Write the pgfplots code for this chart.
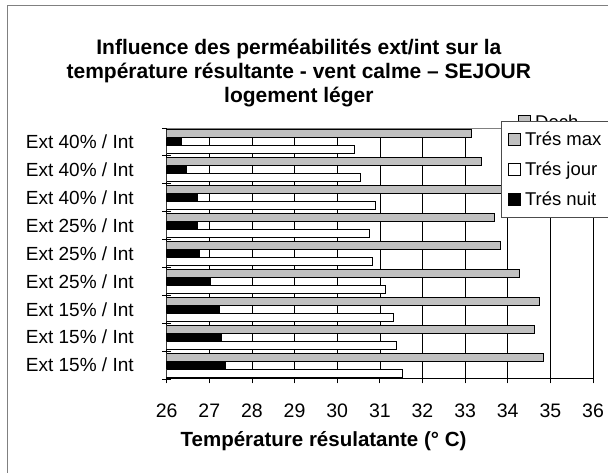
\documentclass[border=0pt]{standalone}
\usepackage{fontspec}
\setmainfont{Liberation Sans}
\usepackage{pgfplots}
\pgfplotsset{compat=1.18}
\definecolor{barGray}{RGB}{192,192,192}
\definecolor{frameGray}{RGB}{128,128,128}
\pgfplotsset{sqleg/.style={legend image code/.code={\draw[##1, line width=0.8pt] (0pt,-6pt) rectangle (12pt,6pt);}}}
\begin{document}
\begin{tikzpicture}
\path[use as bounding box] (0,0) rectangle (608pt,473pt);
\clip (0,0) rectangle (608pt,473pt);
\draw[frameGray, line width=1pt] (7.5pt,-10pt) rectangle (640pt,467.5pt);
\draw[black, fill=barGray, line width=0.8pt] (518pt,346pt) rectangle (530pt,358pt);
\node[anchor=base west, inner sep=0pt, font=\fontsize{18.5}{21}\selectfont] at (535pt,344pt) {Dech};
\begin{axis}[
  at={(166.7pt,94pt)}, anchor=south west,
  scale only axis, width=426.3pt, height=251pt,
  xbar, bar width=8pt,
  xmin=26, xmax=36, ymin=0.5, ymax=9.5,
  xtick={26,...,36},
  ytick={1,...,9},
  yticklabels={Ext 15\% / Int, Ext 15\% / Int, Ext 15\% / Int, Ext 25\% / Int, Ext 25\% / Int, Ext 25\% / Int, Ext 40\% / Int, Ext 40\% / Int, Ext 40\% / Int},
  minor ytick={0.5,1.5,...,9.5},
  tick align=center,
  major tick length=9pt, minor tick length=9pt,
  major y tick style={draw=none},
  tick style={black, line width=0.8pt},
  axis x line*=bottom, axis y line*=left,
  axis line style={black, line width=1pt},
  xmajorgrids, grid style={black, line width=0.7pt},
  /pgf/number format/assume math mode=true,
  tick label style={font=\fontsize{19}{22}\selectfont},
  xticklabel style={yshift=-17pt, font=\fontsize{19.5}{22}\selectfont},
  yticklabel style={xshift=-25pt},
  xlabel={\bfseries Température résulatante (° C)},
  xlabel style={at={(axis description cs:0.368,-0.247)}, anchor=center, font=\fontsize{20.5}{24}\selectfont},
  title={Influence des perméabilités ext/int sur la\\température résultante - vent calme -- SEJOUR\\logement léger},
  title style={at={(axis description cs:0.310,1.195)}, anchor=center, align=center, font=\bfseries\fontsize{21}{24}\selectfont},
  legend style={at={(0.784,1.028)}, anchor=north west, draw=black!70, line width=0.6pt, fill=white,
    font=\fontsize{18.5}{21}\selectfont, inner xsep=7pt, inner ysep=9pt, row sep=10.5pt,
    nodes={inner xsep=4pt}},
  legend cell align=left,
]
\draw[frameGray, line width=0.8pt] (rel axis cs:0,1) -- (rel axis cs:1,1);
\addplot[sqleg, fill=barGray, draw=black, line width=1pt, bar shift=8pt] coordinates {
 (34.85,1) (34.62,2) (34.74,3) (34.27,4) (33.82,5) (33.69,6) (34.90,7) (33.39,8) (33.15,9)};
\addlegendentry{Trés max}
\addplot[sqleg, fill=white, draw=black, line width=1pt, bar shift=-8pt] coordinates {
 (31.54,1) (31.40,2) (31.32,3) (31.13,4) (30.82,5) (30.75,6) (30.90,7) (30.55,8) (30.40,9)};
\addlegendentry{Trés jour}
\addplot[sqleg, fill=black, draw=black, line width=1pt, bar shift=0pt] coordinates {
 (27.37,1) (27.29,2) (27.25,3) (27.02,4) (26.77,5) (26.73,6) (26.73,7) (26.47,8) (26.35,9)};
\addlegendentry{Trés nuit}
\end{axis}
\end{tikzpicture}
\end{document}
